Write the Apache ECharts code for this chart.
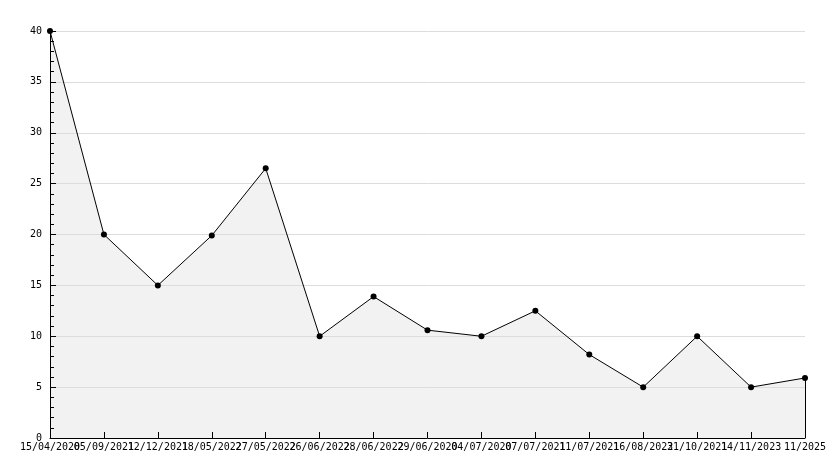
<!DOCTYPE html>
<html><head><meta charset="utf-8">
<script src="https://cdn.jsdelivr.net/npm/echarts@6/dist/echarts.min.js"></script>
<style>html,body{margin:0;padding:0;background:#fff}#c{width:834px;height:468px}</style>
</head><body><div id="c"></div>
<script>
const categories = ["15/04/2020","05/09/2021","12/12/2021","18/05/2022","27/05/2022","26/06/2022","28/06/2022","29/06/2020","04/07/2020","07/07/2021","11/07/2021","16/08/2022","31/10/2021","14/11/2023","11/2025"];
const values = [40, 20, 15, 19.9, 26.5, 10, 13.9, 10.6, 10, 12.5, 8.2, 5, 10, 5, 5.9];
const yTicks = [0, 5, 10, 15, 20, 25, 30, 35, 40];

const font = "DejaVu Sans Mono";
const chart = echarts.init(document.getElementById('c'));
const last = categories.length - 1;
chart.setOption({
  animation: false,
  backgroundColor: '#fff',
  grid: {left: 50, right: 29, top: 31, bottom: 30},
  xAxis: {
    type: 'category', data: categories, boundaryGap: false, z: 10,
    axisLine: {lineStyle: {color: '#000', width: 1}},
    axisTick: {inside: true, length: 6, alignWithLabel: true, lineStyle: {color: '#000'}},
    axisLabel: {interval: 0, color: '#000', fontFamily: font, fontSize: 10, margin: 4},
    splitLine: {show: false}
  },
  yAxis: {
    type: 'value', min: yTicks[0], max: yTicks[yTicks.length-1], interval: 5, z: 10,
    axisLine: {show: true, lineStyle: {color: '#000', width: 1}},
    axisTick: {show: true, inside: true, length: 6, lineStyle: {color: '#000'}},
    minorTick: {show: true, splitNumber: 5, length: 4, lineStyle: {color: '#000'}},
    axisLabel: {color: '#000', fontFamily: font, fontSize: 10, margin: 8},
    splitLine: {show: true, lineStyle: {color: '#dcdcdc', width: 1}}
  },
  series: [{
    type: 'line', data: values, z: 2,
    symbol: 'none',
    lineStyle: {width: 0, opacity: 0},
    areaStyle: {color: '#f2f2f2', opacity: 1}
  }, {
    type: 'line', data: values, z: 12,
    symbol: 'circle', symbolSize: 6,
    itemStyle: {color: '#000'},
    lineStyle: {color: '#000', width: 1},
    markLine: {
      silent: true, symbol: 'none', label: {show: false},
      lineStyle: {color: '#000', width: 1, type: 'solid'},
      data: [[{coord: [last, 0]}, {coord: [last, values[last]]}]]
    }
  }]
});
</script></body></html>
